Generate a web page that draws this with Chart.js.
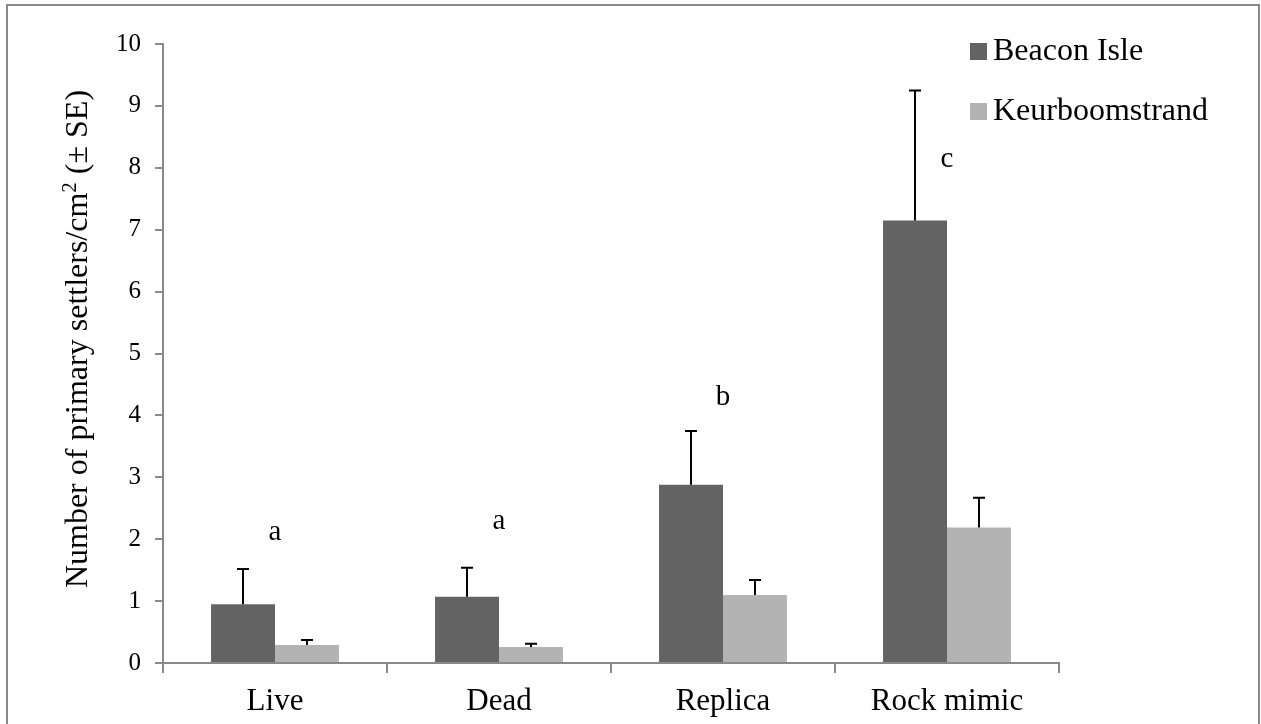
<!DOCTYPE html>
<html>
<head>
<meta charset="utf-8">
<script src="https://cdn.jsdelivr.net/npm/chart.js@4/dist/chart.umd.min.js"></script>
<style>
html,body{margin:0;padding:0;background:#fff;}
#wrap{width:1261px;height:724px;position:relative;overflow:hidden;}
canvas{display:block;}
</style>
</head>
<body>
<div id="wrap"><canvas id="c" width="1261" height="724"></canvas></div>
<script>
// ---- data ----
const categories = ['Live', 'Dead', 'Replica', 'Rock mimic'];
const seriesNames = ['Beacon Isle', 'Keurboomstrand'];
const beaconIsle = [0.95, 1.07, 2.88, 7.15];
const beaconIsleSE = [0.57, 0.47, 0.87, 2.10];
const keurboomstrand = [0.29, 0.26, 1.10, 2.19];
const keurboomstrandSE = [0.08, 0.05, 0.24, 0.48];
const groupLetters = ['a', 'a', 'b', 'c'];
const letterHeights = [1.99, 2.16, 4.17, 8.02];
const yTickValues = [0, 1, 2, 3, 4, 5, 6, 7, 8, 9, 10];
const yTitleMain = 'Number of primary settlers/cm';
const yTitleSup = '2';
const yTitleEnd = ' (\u00B1 SE)';

const FONT = "'Liberation Serif', 'Times New Roman', serif";
const AXIS = '#898989';
const errorArrays = [beaconIsleSE, keurboomstrandSE];

const framePlugin = {
  id: 'frame',
  beforeDraw(chart) {
    const ctx = chart.ctx;
    ctx.save();
    ctx.fillStyle = '#fff';
    ctx.fillRect(0, 0, chart.width, chart.height);
    ctx.strokeStyle = AXIS;
    ctx.lineWidth = 2;
    ctx.strokeRect(7, 5, 1252, 800);
    ctx.restore();
  }
};

const yTitlePlugin = {
  id: 'yTitle',
  afterDraw(chart) {
    const ctx = chart.ctx;
    const big = '32px ' + FONT, small = '21px ' + FONT;
    ctx.save();
    ctx.font = big;
    const w1 = ctx.measureText(yTitleMain).width;
    const w3 = ctx.measureText(yTitleEnd).width;
    ctx.font = small;
    const w2 = ctx.measureText(yTitleSup).width;
    const total = w1 + w2 + w3;
    ctx.translate(87, 339);
    ctx.rotate(-Math.PI / 2);
    ctx.fillStyle = '#000';
    ctx.textAlign = 'left';
    ctx.textBaseline = 'alphabetic';
    let x = -total / 2;
    ctx.font = big;
    ctx.fillText(yTitleMain, x, 0);
    x += w1;
    ctx.font = small;
    ctx.fillText(yTitleSup, x, -11);
    x += w2;
    ctx.font = big;
    ctx.fillText(yTitleEnd, x, 0);
    ctx.restore();
  }
};

const errorBarPlugin = {
  id: 'errorBars',
  afterDatasetsDraw(chart) {
    const ctx = chart.ctx;
    const y = chart.scales.y;
    ctx.save();
    ctx.strokeStyle = '#000';
    ctx.lineWidth = 2;
    chart.data.datasets.forEach((ds, di) => {
      const meta = chart.getDatasetMeta(di);
      meta.data.forEach((bar, i) => {
        const top = y.getPixelForValue(ds.data[i] + errorArrays[di][i]);
        const x = Math.round(bar.x);
        ctx.beginPath();
        ctx.moveTo(x, bar.y);
        ctx.lineTo(x, top);
        ctx.moveTo(x - 6, top);
        ctx.lineTo(x + 6, top);
        ctx.stroke();
      });
    });
    ctx.restore();
  }
};

const letterPlugin = {
  id: 'letters',
  afterDatasetsDraw(chart) {
    const ctx = chart.ctx;
    const xs = chart.scales.x, ys = chart.scales.y;
    ctx.save();
    ctx.fillStyle = '#000';
    ctx.font = '29px ' + FONT;
    ctx.textAlign = 'center';
    ctx.textBaseline = 'alphabetic';
    groupLetters.forEach((l, i) => {
      ctx.fillText(l, xs.getPixelForValue(i), ys.getPixelForValue(letterHeights[i]));
    });
    ctx.restore();
  }
};

const legendPlugin = {
  id: 'customLegend',
  afterDraw(chart) {
    const ctx = chart.ctx;
    ctx.save();
    ctx.font = '32px ' + FONT;
    ctx.textBaseline = 'middle';
    ctx.textAlign = 'left';
    chart.data.datasets.forEach((ds, i) => {
      const cy = 51 + i * 60;
      ctx.fillStyle = ds.backgroundColor;
      ctx.fillRect(970, cy - 8, 17, 17);
      ctx.fillStyle = '#000';
      ctx.fillText(ds.label, 993, cy + 1);
    });
    ctx.restore();
  }
};

new Chart(document.getElementById('c'), {
  type: 'bar',
  data: {
    labels: categories,
    datasets: [
      { label: seriesNames[0], data: beaconIsle, backgroundColor: '#636363' },
      { label: seriesNames[1], data: keurboomstrand, backgroundColor: '#b3b3b3' }
    ]
  },
  options: {
    responsive: false,
    animation: false,
    devicePixelRatio: 1,
    layout: { padding: { top: 44, right: 202, left: 0, bottom: 0 } },
    datasets: { bar: { categoryPercentage: 0.571, barPercentage: 1.0 } },
    plugins: { legend: { display: false }, tooltip: { enabled: false } },
    scales: {
      x: {
        offset: true,
        grid: { display: true, offset: true, drawOnChartArea: false, drawTicks: true, tickLength: 10, color: AXIS, lineWidth: 2 },
        border: { display: true, color: AXIS, width: 2 },
        ticks: { color: '#000', font: { family: FONT, size: 31 }, padding: 10 },
        afterFit(s) { s.height = 61; }
      },
      y: {
        min: 0, max: 10,
        afterBuildTicks(s) { s.ticks = yTickValues.map(v => ({ value: v })); },
        grid: { display: true, drawOnChartArea: false, drawTicks: true, tickLength: 8, color: AXIS, lineWidth: 2 },
        border: { display: true, color: AXIS, width: 2 },
        ticks: { color: '#000', font: { family: FONT, size: 25 }, padding: 14 },
        title: { display: false },
        afterFit(s) { s.width = 163; }
      }
    }
  },
  plugins: [framePlugin, errorBarPlugin, letterPlugin, legendPlugin, yTitlePlugin]
});
</script>
</body>
</html>
